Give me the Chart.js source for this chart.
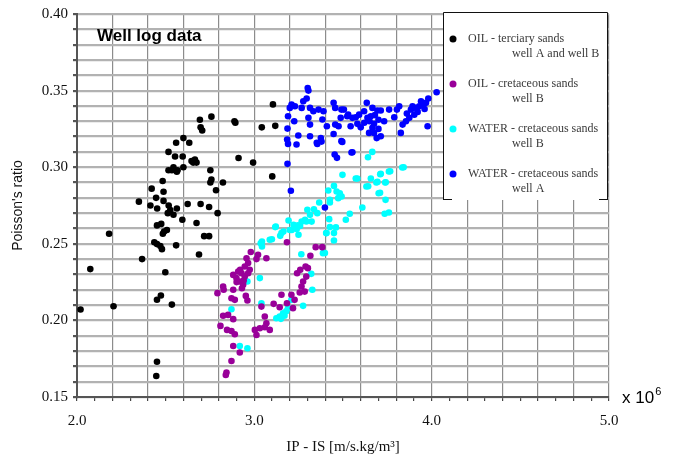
<!DOCTYPE html>
<html>
<head>
<meta charset="utf-8">
<title>Well log data</title>
<script src="https://cdn.jsdelivr.net/npm/chart.js@4/dist/chart.umd.min.js"></script>
<style>
  body { margin: 0; background: #fff; }
  #wrap { width: 677px; height: 461px; }
</style>
</head>
<body>
<div id="wrap"><canvas id="wellChart" width="677" height="461"></canvas></div>
<script>
// IP - IS (x 10^6) against Poisson's ratio, one list of [ip, pr] pairs per group
var oilTerciary = [
  [2.758,0.333],[2.693,0.331],[2.697,0.326],[2.706,0.324],[2.888,0.330],[2.893,0.329],
  [2.600,0.319],[2.559,0.316],[2.633,0.316],[2.516,0.310],[2.553,0.307],[2.596,0.307],
  [2.646,0.304],[2.665,0.305],[2.674,0.303],[2.655,0.303],[2.911,0.306],[2.993,0.303],
  [2.516,0.298],[2.544,0.300],[2.535,0.298],[2.563,0.297],[2.600,0.300],[2.567,0.298],
  [2.752,0.298],[2.758,0.292],[2.752,0.290],[2.823,0.290],[2.784,0.285],[2.483,0.291],
  [2.421,0.286],[2.488,0.284],[2.446,0.280],[2.349,0.2775],[2.414,0.275],[2.452,0.273],
  [2.488,0.278],[2.517,0.275],[2.526,0.272],[2.512,0.270],[2.544,0.269],[2.563,0.273],
  [2.624,0.276],[2.697,0.276],[2.745,0.274],[2.793,0.270],[2.594,0.2657],[2.674,0.2636],
  [2.451,0.262],[2.475,0.263],[2.491,0.258],[2.507,0.259],[2.484,0.2566],[2.717,0.255],
  [2.745,0.255],[2.181,0.2566],[2.436,0.251],[2.451,0.2498],[2.470,0.2485],[2.559,0.249],
  [2.479,0.2465],[2.367,0.240],[2.688,0.243],[2.075,0.2335],[2.498,0.2314],[2.473,0.2163],
  [2.451,0.2135],[2.535,0.2103],[2.206,0.2092],[2.020,0.2071],[2.451,0.173],[2.447,0.1637],
  [3.101,0.294],[3.105,0.341],[3.118,0.327],[3.042,0.326]
];

var oilCretaceous = [
  [2.980,0.2446],[3.021,0.2428],[3.068,0.2406],[3.012,0.240],[2.956,0.2406],[2.965,0.2374],
  [2.946,0.2352],[2.974,0.233],[2.909,0.2319],[2.928,0.2308],[2.881,0.2297],[2.899,0.2276],
  [2.946,0.2287],[2.965,0.2308],[2.918,0.2254],[2.937,0.2232],[2.824,0.2221],[2.792,0.2178],
  [2.827,0.220],[2.881,0.220],[2.871,0.2145],[2.890,0.2134],[2.952,0.216],[2.961,0.213],
  [2.824,0.203],[2.852,0.2036],[2.881,0.2008],[2.809,0.1964],[2.846,0.1938],[2.871,0.1931],
  [2.890,0.191],[2.881,0.1833],[2.918,0.179],[2.871,0.1735],[2.843,0.166],[2.839,0.1644],
  [3.003,0.1938],[3.012,0.1905],[3.031,0.1949],[3.059,0.1955],[3.068,0.1981],[3.087,0.1938],
  [3.059,0.2025],[3.040,0.209],[3.109,0.2108],[3.153,0.2167],[3.143,0.2086],[3.184,0.2112],
  [3.209,0.2167],[3.218,0.208],[3.227,0.2134],[3.256,0.2182],[3.266,0.2221],[3.275,0.2254],
  [3.241,0.2308],[3.259,0.233],[3.289,0.2352],[3.316,0.2422],[3.346,0.2478],[3.383,0.2478],
  [3.302,0.2341],[3.293,0.2286],[3.284,0.2188],[3.184,0.251],
  [2.900,0.2250],[2.920,0.2330],[2.940,0.2260],[2.930,0.2210]
];

var waterWellB = [
  [2.871,0.2073],[2.918,0.1833],[2.961,0.1818],[3.031,0.2276],[2.961,0.2254],[3.040,0.2112],
  [3.124,0.2014],[3.143,0.2025],[3.162,0.2047],[3.190,0.208],[3.209,0.2134],[3.275,0.2095],
  [3.321,0.2304],[3.327,0.220],[3.265,0.2432],[3.387,0.2439],[3.405,0.257],[3.036,0.2504],
  [3.087,0.2526],[3.121,0.2613],[3.153,0.257],[3.200,0.259],[3.246,0.262],[3.293,0.2646],
  [3.665,0.310],[3.641,0.3065],[3.834,0.2998],[3.759,0.2972],[3.710,0.2954],[3.688,0.290],
  [3.632,0.2874],[3.738,0.290],[3.701,0.283],[3.740,0.2787],[3.735,0.2696],[3.759,0.2704],
  [3.609,0.2737],[3.572,0.2926],[3.497,0.295],[3.449,0.2878],[3.417,0.2848],[3.464,0.2841],
  [3.482,0.283],[3.492,0.2809],[3.473,0.2798],[3.426,0.2787],[3.426,0.277],[3.366,0.277],
  [3.336,0.2726],[3.299,0.2722],[3.355,0.270],[3.314,0.2689],[3.286,0.2657],[3.323,0.2645],
  [3.267,0.2645],[3.258,0.2617],[3.221,0.2624],[3.193,0.2652],[3.239,0.2596],[3.211,0.259],
  [3.164,0.258],[3.118,0.2609],[3.249,0.2559],[3.146,0.2552],[3.099,0.253],[3.043,0.2515],
  [3.043,0.2483],[3.422,0.2661],[3.426,0.2609],[3.460,0.2607],[3.407,0.257],[3.449,0.257],
  [3.449,0.2522],[3.516,0.2657],[3.538,0.2696],[3.398,0.244],[3.581,0.2926],[3.657,0.2926],
  [3.694,0.2904],[3.741,0.2902],[3.642,0.2876],[3.709,0.2833],[3.766,0.2974],[3.713,0.2957],
  [3.842,0.300],[3.170,0.2030],[3.180,0.2060],[3.150,0.2010]
];

var waterWellA = [
  [3.301,0.3517],[3.305,0.350],[3.295,0.3448],[3.276,0.343],[3.210,0.3409],[3.200,0.3387],
  [3.229,0.3398],[3.267,0.3387],[3.314,0.3387],[3.362,0.3376],[3.390,0.3365],[3.333,0.3365],
  [3.447,0.342],[3.456,0.3387],[3.491,0.3376],[3.529,0.3343],[3.190,0.3333],[3.225,0.330],
  [3.305,0.3322],[3.314,0.3278],[3.384,0.3311],[3.409,0.3267],[3.456,0.3278],[3.475,0.3267],
  [3.187,0.3252],[3.248,0.3207],[3.314,0.3202],[3.375,0.3191],[3.352,0.3159],[3.447,0.3217],
  [3.491,0.317],[3.185,0.318],[3.190,0.3152],[3.238,0.3148],[3.453,0.3083],[3.466,0.3061],
  [3.187,0.3022],[3.206,0.2846],[3.355,0.3152],[3.379,0.3167],[3.548,0.3096],[3.398,0.2737],
  [4.028,0.3489],[3.981,0.3448],[3.968,0.342],[3.949,0.3409],[3.930,0.3398],[3.911,0.3387],
  [3.892,0.3398],[3.883,0.3376],[3.921,0.3361],[3.902,0.3343],[3.874,0.3322],[3.855,0.330],
  [3.836,0.3278],[3.826,0.3224],[3.977,0.3267],[3.817,0.3398],[3.804,0.3376],[3.789,0.3326],
  [3.760,0.3376],[3.732,0.330],[3.713,0.337],[3.694,0.337],[3.634,0.342],[3.619,0.3365],
  [3.666,0.3387],[3.657,0.3333],[3.638,0.3322],[3.675,0.3283],[3.666,0.3257],[3.675,0.3224],
  [3.713,0.3202],[3.647,0.3224],[3.591,0.3343],[3.572,0.3326],[3.553,0.3322],[3.524,0.3333],
  [3.505,0.3376],[3.487,0.3322],[3.543,0.3267],[3.581,0.3283],[3.496,0.3165],[3.553,0.3098],
  [3.650,0.3300],[3.680,0.3340],[3.700,0.3310],[3.620,0.3290],[3.600,0.3260],[3.940,0.3430],
  [3.960,0.3380],[3.860,0.3350],[3.700,0.3250],[3.690,0.3190]
];

var xTickLabels = ["2.0", "3.0", "4.0", "5.0"];
var yTickLabels = ["0.15", "0.20", "0.25", "0.30", "0.35", "0.40"];

// legend rows: colour, first line, second line
var legendColors = ["#000000", "#990099", "#00ffff", "#0000ff"];
var legendLine1 = ["OIL - terciary sands", "OIL - cretaceous sands", "WATER - cretaceous sands", "WATER - cretaceous sands"];
var legendLine2 = ["well A and well B", "well B", "well B", "well A"];

var serif = '"Liberation Serif", "Times New Roman", serif';
var sans = '"Liberation Sans", Arial, sans-serif';

function toPoints(list) {
  return list.map(function (p) { return { x: p[0], y: p[1] }; });
}

function dataset(list, color) {
  return {
    data: toPoints(list),
    backgroundColor: color,
    borderColor: color,
    borderWidth: 0,
    pointRadius: 3.3,
    pointHoverRadius: 3.3
  };
}

// title, multiplier and the boxed legend
const overlay = {
  id: "overlay",
  afterDraw(chart) {
    const ctx = chart.ctx;
    ctx.save();
    ctx.fillStyle = "#000";
    ctx.textBaseline = "middle";
    ctx.textAlign = "left";
    ctx.font = "bold 17px " + sans;
    ctx.fillText("Well log data", 97, 36);

    ctx.font = "17px " + sans;
    ctx.fillText("x 10", 622, 398);
    let w = ctx.measureText("x 10").width;
    ctx.font = "11px " + sans;
    ctx.fillText("6", 622 + w + 1, 392);

    // legend box
    let left = 443, top = 12, right = 608, bottom = 200;
    ctx.fillStyle = "#fff";
    ctx.fillRect(left, top, right - left, bottom - top);
    ctx.strokeStyle = "#111";
    ctx.lineWidth = 1;
    ctx.beginPath();
    ctx.moveTo(left + 0.5, bottom);
    ctx.lineTo(left + 0.5, top + 0.5);
    ctx.lineTo(right - 0.5, top + 0.5);
    ctx.lineTo(right - 0.5, bottom);
    ctx.moveTo(left, bottom - 0.5);
    ctx.lineTo(left + 9, bottom - 0.5);
    ctx.moveTo(right - 9, bottom - 0.5);
    ctx.lineTo(right, bottom - 0.5);
    ctx.stroke();

    for (let i = 0; i < legendColors.length; i++) {
      let y = 39 + i * 45;
      ctx.fillStyle = legendColors[i];
      ctx.beginPath();
      ctx.arc(453, y, 3.5, 0, Math.PI * 2);
      ctx.fill();
      ctx.fillStyle = "#3a3a3a";
      ctx.font = "12px " + serif;
      ctx.fillText(legendLine1[i], 468, y);
      ctx.fillText(legendLine2[i], 512, y + 15);
    }
    ctx.restore();
  }
};

const myChart = document.getElementById("wellChart").getContext("2d");
let scatterChart = new Chart(myChart, {
  type: "scatter",
  data: {
    datasets: [
      dataset(oilTerciary, "#000000"),
      dataset(oilCretaceous, "#990099"),
      dataset(waterWellB, "#00ffff"),
      dataset(waterWellA, "#0000ff")
    ]
  },
  options: {
    responsive: false,
    animation: false,
    layout: { padding: { left: 0, right: 68, top: 14, bottom: 0 } },
    plugins: {
      legend: { display: false },
      tooltip: { enabled: false }
    },
    scales: {
      x: {
        type: "linear",
        min: 2.0,
        max: 5.0,
        afterFit: function (scale) { scale.height = 64; },
        ticks: {
          stepSize: 0.1,
          autoSkip: false,
          maxRotation: 0,
          padding: 11,
          color: "#111",
          font: { family: serif, size: 15 },
          callback: function (value) {
            let s = value.toFixed(1);
            return xTickLabels.indexOf(s) >= 0 && Math.abs(value - Math.round(value)) < 1e-6 ? s : "";
          }
        },
        grid: {
          lineWidth: 1.2,
          tickLength: 4,
          color: function (c) {
            let v = Math.round(c.tick.value * 10);
            return v % 2 === 0 ? "#8c8c8c" : "rgba(0,0,0,0)";
          },
          tickColor: "#444"
        },
        border: { color: "#555", width: 2 },
        title: {
          display: true,
          text: "IP - IS [m/s.kg/m³]",
          color: "#111",
          font: { family: serif, size: 15 },
          padding: { top: 0, bottom: 5 }
        }
      },
      y: {
        type: "linear",
        min: 0.15,
        max: 0.40,
        afterFit: function (scale) { scale.width = 77; },
        ticks: {
          stepSize: 0.01,
          autoSkip: false,
          padding: 5,
          color: "#111",
          font: { family: serif, size: 15 },
          callback: function (value) {
            let s = value.toFixed(2);
            return yTickLabels.indexOf(s) >= 0 ? s : "";
          }
        },
        grid: {
          lineWidth: 2.2,
          tickLength: 4,
          color: "#b2b2b2",
          tickColor: "#555"
        },
        border: { color: "#555", width: 2 },
        title: {
          display: true,
          text: "Poisson's ratio",
          color: "#111",
          font: { family: sans, size: 14 },
          padding: { top: 10, bottom: 0 }
        }
      }
    }
  },
  plugins: [overlay]
});
</script>
</body>
</html>
